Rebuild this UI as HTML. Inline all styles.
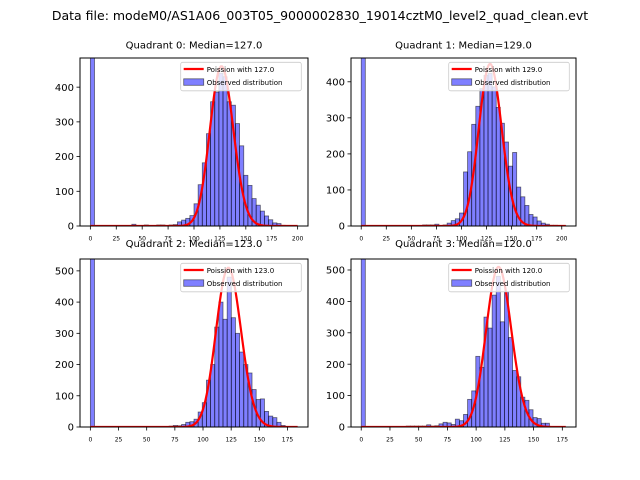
<!DOCTYPE html>
<html><head><meta charset="utf-8"><style>
body{margin:0;background:#fff;}
svg{display:block;font-family:"DejaVu Sans","Liberation Sans",sans-serif;}
</style></head><body>
<svg id="chart" width="640" height="480" viewBox="0 0 640 480">
<text x="320" y="20" text-anchor="middle" font-size="12.5">Data file: modeM0/AS1A06_003T05_9000002830_19014cztM0_level2_quad_clean.evt</text>
</svg>
<script>
const medians=[127,129,123,120];
const dataMax=[200,204,184,178];
const totals=[3250,3137,3853,3933];
const yTop=[484,466,538,535];
const yTicksA=[0,100,200,300,400];
const yTicksB=[0,100,200,300,400,500];
const xTicksA=[0,25,50,75,100,125,150,175,200];
const xTicksB=[0,25,50,75,100,125,150,175];
const counts0=[3000,0,0,0,0,0,0,0,0,0,5,0,0,3,0,0,3,3,0,3,4,12,17,22,30,64,119,182,266,358,386,440,430,358,348,295,231,146,117,79,60,43,29,18,9,7,2,0,0,0];
const counts1=[3000,0,0,0,0,0,0,0,0,0,0,0,0,0,0,3,3,3,5,0,3,8,15,20,36,150,206,282,332,381,418,423,386,329,285,233,166,204,108,81,57,32,25,14,8,5,2,2,1,1];
const counts2=[3000,0,0,0,0,0,0,0,0,0,0,0,0,0,0,0,0,0,0,3,5,4,8,15,17,25,48,78,150,200,320,400,345,480,350,300,240,200,173,120,88,90,50,35,30,15,5,2,1,0];
const counts3=[3000,0,0,0,0,0,0,0,0,0,0,3,3,3,3,3,7,3,4,10,15,13,8,25,20,40,88,115,225,190,350,315,420,480,335,430,285,180,160,95,85,55,30,27,12,12,0,1,0,0];
const allCounts=[counts0,counts1,counts2,counts3];
const NS="http://www.w3.org/2000/svg";
const svg=document.getElementById('chart');
const boxes=[[80,58,308,226],[351,58,576,226],[80,259,308,427],[351,259,576,427]];
function mk(tag,attrs,parent){const e=document.createElementNS(NS,tag);for(const k in attrs)e.setAttribute(k,attrs[k]);(parent||svg).appendChild(e);return e;}
function lnFact(k){let s=0;for(let i=2;i<=k;i++)s+=Math.log(i);return s;}
for(let q=0;q<4;q++){
  const [L,T,R,B]=boxes[q];
  const g=mk('g',{});
  
  
  const counts=allCounts[q];const nb=counts.length;const bw=dataMax[q]/nb;
  const m=dataMax[q]*0.05;const x0=-m,x1=dataMax[q]+m;
  const X=v=>L+(v-x0)/(x1-x0)*(R-L);
  const Y=v=>B-v/yTop[q]*(B-T);
  const cp=mk('clipPath',{id:'cp'+q},g);mk('rect',{x:L,y:T,width:R-L,height:B-T},cp);
  const pg=mk('g',{'clip-path':'url(#cp'+q+')'},g);
  for(let i=0;i<nb;i++){
    if(counts[i]<=0)continue;
    const r=mk('rect',{x:X(i*bw),y:Y(counts[i]),width:X((i+1)*bw)-X(i*bw),height:B-Y(counts[i]),fill:'rgba(0,0,255,0.5)',stroke:'rgba(0,0,0,0.55)','stroke-width':0.8},pg);
    
    
  }
  const lam=medians[q];let d='';
  for(let k=0;k<=dataMax[q];k++){const p=Math.exp(k*Math.log(lam)-lam-lnFact(k))*totals[q]*bw;d+=(k?'L':'M')+X(k).toFixed(2)+','+Y(p).toFixed(2);}
  const c=mk('path',{d:d,fill:'none',stroke:'#ff0000','stroke-width':2.2},pg);
  
  
  mk('rect',{x:L,y:T,width:R-L,height:B-T,fill:'none',stroke:'#000','stroke-width':1},g);
  const yt=q<2?yTicksA:yTicksB;
  yt.forEach(v=>{if(v>yTop[q])return;const y=Y(v);mk('line',{x1:L-3.5,x2:L,y1:y,y2:y,stroke:'#000','stroke-width':0.8},g);
    const t=mk('text',{x:L-6,y:y+3.6,'text-anchor':'end','font-size':10},g);t.textContent=v;
    
    });
  const xt=dataMax[q]>=200?xTicksA:xTicksB;
  xt.forEach(v=>{const x=X(v);mk('line',{x1:x,x2:x,y1:B,y2:B+3.5,stroke:'#000','stroke-width':0.8},g);
    const t=mk('text',{x:x,y:B+14.5,'text-anchor':'middle','font-size':6},g);t.textContent=v;
    
    });
  const ti=mk('text',{x:(L+R)/2,y:q<2?T-9.5:T-12,'text-anchor':'middle','font-size':10},g);
  ti.textContent='Quadrant '+q+': Median='+medians[q].toFixed(1);
  
  
  const lg=mk('g',{},g);
  
  
  const lx=R-127.3,ly=T+4.3;
  mk('rect',{x:lx,y:ly,width:120.6,height:28.5,fill:'rgba(255,255,255,0.8)',stroke:'#ccc','stroke-width':0.8,rx:2},lg);
  mk('line',{x1:lx+3,x2:lx+23,y1:ly+6.7,y2:ly+6.7,stroke:'#ff0000','stroke-width':2.2},lg);
  const t1=mk('text',{x:lx+26,y:ly+9.5,'font-size':7},lg);t1.textContent='Poission with '+medians[q].toFixed(1);
  mk('rect',{x:lx+3,y:ly+16.5,width:20,height:6.5,fill:'rgba(0,0,255,0.5)',stroke:'rgba(0,0,0,0.55)','stroke-width':0.8},lg);
  const t2=mk('text',{x:lx+26,y:ly+22.5,'font-size':7},lg);t2.textContent='Observed distribution';
}
</script>
</body></html>
